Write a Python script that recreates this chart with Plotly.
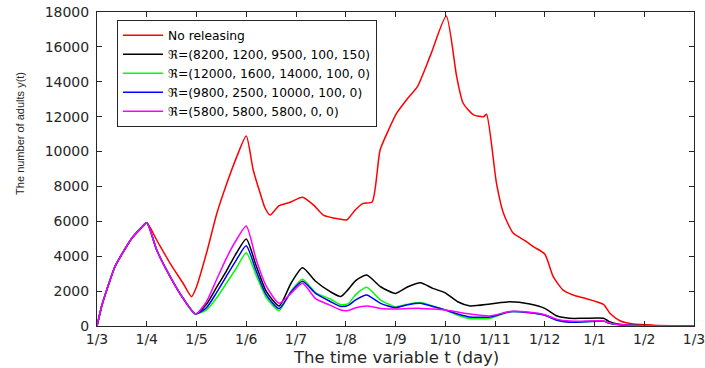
import plotly.graph_objects as go

# ---- data (time in months from 1 March; adults y(t)) ----
month_labels = ["1/3", "1/4", "1/5", "1/6", "1/7", "1/8", "1/9",
                "1/10", "1/11", "1/12", "1/1", "1/2", "1/3"]

t_none = [0, 0.1, 0.2, 0.36, 0.53, 0.7, 0.86, 1.0, 1.2, 1.47, 1.73, 1.9, 2.0,
          2.2, 2.41, 2.61, 2.81, 3.0, 3.14, 3.28, 3.38, 3.48, 3.58, 3.66, 3.88,
          4.13, 4.35, 4.55, 4.87, 5.02, 5.19, 5.35, 5.53, 5.69, 5.86, 6.02, 6.22,
          6.44, 6.7, 7.02, 7.23, 7.36, 7.57, 7.77, 7.83, 8.03, 8.17, 8.37,
          8.6, 8.77, 9.0, 9.17, 9.37, 9.57, 9.77, 10.18, 10.31, 10.51, 10.78,
          11.18, 12]
y_none = [0, 1200, 2100, 3400, 4260, 5030, 5540, 5920, 4930, 3590, 2450, 1680, 2250,
          4170, 6460, 8180, 9710, 10890, 8940, 7610, 6750, 6360, 6650, 6900, 7090,
          7380, 6940, 6360, 6130, 6080, 6650, 7030, 7110, 10090, 11240, 12190, 12960,
          13720, 15500, 17770, 14290, 12770, 12100, 12000, 12140, 8180, 6460, 5310,
          4900, 4550, 4130, 2830, 2060, 1780, 1620, 1240, 730, 300, 115,
          50, 0]

t_rel = [0, 0.1, 0.2, 0.36, 0.53, 0.7, 0.86, 1.0, 1.2, 1.47, 1.73, 1.98,
         2.2, 2.4, 2.6, 2.8, 3.0, 3.2, 3.4, 3.66, 3.9, 4.13, 4.4, 4.68, 4.9,
         5.05, 5.2, 5.42, 5.7, 6.0, 6.25, 6.5, 6.75, 7.0, 7.25, 7.5, 7.9, 8.3,
         8.7, 9.0, 9.25, 9.5, 9.8, 10.18, 10.3, 10.5, 10.8, 11.2, 12]

y_early = [0, 1200, 2100, 3400, 4260, 5030, 5540, 5920, 4360, 2830, 1590, 690]

y_black = y_early + [
    1250, 2200, 3150, 4170, 4990, 3450, 2000, 1150, 2450, 3340, 2550, 1980, 1690,
    2100, 2600, 2920, 2250, 1870, 2250, 2480, 2160, 1900, 1390, 1150, 1260, 1390,
    1260, 1010, 570, 440, 440, 440, 250, 100, 40, 10, 0]
y_green = y_early + [
    930, 1590, 2450, 3310, 4200, 2900, 1650, 880, 2000, 2680, 1900, 1560, 1220,
    1280, 1800, 2220, 1490, 1110, 1250, 1340, 1150, 920, 620, 430, 440, 820,
    760, 620, 330, 220, 240, 280, 150, 70, 25, 8, 0]
y_blue = y_early + [
    1050, 1900, 2850, 3780, 4600, 3150, 1800, 1000, 1950, 2560, 1850, 1420, 1120,
    1180, 1500, 1780, 1300, 1050, 1220, 1300, 1120, 920, 690, 520, 520, 820,
    760, 620, 330, 220, 240, 280, 150, 70, 25, 8, 0]
y_magenta = y_early + [
    1400, 2640, 3880, 4930, 5730, 3800, 2300, 1300, 1870, 2450, 1550, 1200, 920,
    890, 1050, 1150, 1010, 970, 1000, 1010, 980, 920, 800, 690, 580, 830,
    790, 650, 380, 280, 280, 300, 170, 80, 30, 8, 0]

series = [
    ("No releasing", t_none, y_none, "#ff0000"),
    ("\u211c=(8200, 1200, 9500, 100, 150)", t_rel, y_black, "#000000"),
    ("\u211c=(12000, 1600, 14000, 100, 0)", t_rel, y_green, "#00ff00"),
    ("\u211c=(9800, 2500, 10000, 100, 0)", t_rel, y_blue, "#0000ff"),
    ("\u211c=(5800, 5800, 5800, 0, 0)", t_rel, y_magenta, "#ff00ff"),
]

AX = "#262626"
FONT = "DejaVu Sans"

fig = go.Figure()
for name, t, y, color in series:
    fig.add_trace(go.Scatter(x=t, y=y, mode="lines", name=name,
                             line=dict(color=color, width=1.5,
                                       shape="spline", smoothing=0.6)))

axis_common = dict(showline=True, linecolor=AX, linewidth=1, mirror="ticks",
                   ticks="inside", ticklen=5, tickcolor=AX, showgrid=False,
                   zeroline=False, automargin=False, ticklabeloverflow="allow",
                   tickfont=dict(family=FONT, size=14, color=AX))

fig.update_xaxes(range=[0, 12], tickvals=list(range(13)), ticktext=month_labels,
                 **axis_common)
fig.update_yaxes(range=[0, 18000], dtick=2000, tickformat="d",
                 ticklabelstandoff=4, **axis_common)

fig.update_layout(
    width=705, height=368,
    margin=dict(l=97, r=11, t=12, b=42, autoexpand=False),
    paper_bgcolor="white", plot_bgcolor="white",
    showlegend=True,
    legend=dict(x=0.0335, y=0.975, xanchor="left", yanchor="top",
                bgcolor="white", bordercolor=AX, borderwidth=1,
                font=dict(family=FONT, size=12.3, color="#000000"),
                itemwidth=40, tracegroupgap=0),
    annotations=[
        dict(text="The time variable t (day)", xref="paper", yref="paper",
             x=0.5, y=-0.099, xanchor="center", yanchor="middle", showarrow=False,
             font=dict(family=FONT, size=16.5, color=AX)),
        dict(text="The number of adults y(t)", xref="paper", yref="paper",
             x=-0.129, y=0.615, xanchor="center", yanchor="middle", showarrow=False,
             textangle=-90,
             font=dict(family="Liberation Sans Narrow, Liberation Sans", size=11,
                       color=AX)),
    ],
)

fig.write_html("out.html")
